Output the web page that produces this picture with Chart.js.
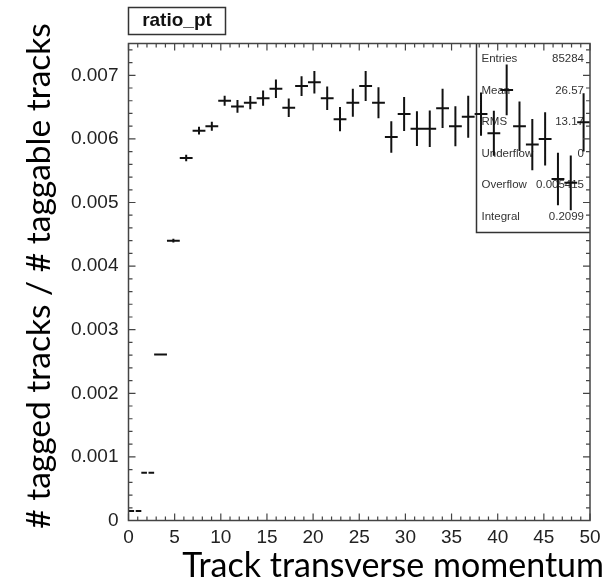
<!DOCTYPE html>
<html>
<head>
<meta charset="utf-8">
<script src="https://cdn.jsdelivr.net/npm/chart.js@4.4.1/dist/chart.umd.min.js"></script>
<style>
  html, body { margin: 0; padding: 0; background: #ffffff; }
  canvas { display: block; }
</style>
</head>
<body>
<canvas id="c" width="611" height="582"></canvas>
<script>
// Histogram binning: 36 equal bins over the pt range
const xMin = 0;
const xMax = 50;
const nBins = 36;

// Ratio per bin (tagged / taggable) and its statistical uncertainty
const ratio = [
  0.00015, 0.00075, 0.00261, 0.00440, 0.00570, 0.00613, 0.00620, 0.00660, 0.00651,
  0.00657, 0.00664, 0.00679, 0.00649, 0.00683, 0.00689, 0.00664, 0.00631, 0.00657,
  0.00683, 0.00657, 0.00603, 0.00639, 0.00616, 0.00616, 0.00648, 0.00620, 0.00635,
  0.00639, 0.00609, 0.00677, 0.00620, 0.00591, 0.00600, 0.00537, 0.00531, 0.00626
];
const ratioErr = [
  0.000005, 0.000008, 0.000015, 0.000030, 0.000050, 0.000060, 0.000070, 0.000080, 0.000100,
  0.000105, 0.000120, 0.000145, 0.000145, 0.000157, 0.000176, 0.000184, 0.000190, 0.000220,
  0.000236, 0.000244, 0.000247, 0.000267, 0.000273, 0.000288, 0.000310, 0.000315, 0.000330,
  0.000340, 0.000354, 0.000400, 0.000390, 0.000404, 0.000420, 0.000414, 0.000430, 0.000458
];

// Axis ticks
const xTickValues = [0, 5, 10, 15, 20, 25, 30, 35, 40, 45, 50];
const xTickLabels = ['0', '5', '10', '15', '20', '25', '30', '35', '40', '45', '50'];
const yTickValues = [0, 0.001, 0.002, 0.003, 0.004, 0.005, 0.006, 0.007];
const yTickLabels = ['0', '0.001', '0.002', '0.003', '0.004', '0.005', '0.006', '0.007'];
const yMin = 0;
const yMax = 0.0075;

// Stats panel
const statNames = ['Entries', 'Mean', 'RMS', 'Underflow', 'Overflow', 'Integral'];
const statValues = ['85284', '26.57', '13.17', '0', '0.005415', '0.2099'];

const histName = 'ratio_pt';
const xTitle = 'Track transverse momentum';
const yTitle = '# tagged tracks / # taggable tracks';

const binWidth = (xMax - xMin) / nBins;
const points = ratio.map((v, i) => ({ x: xMin + (i + 0.5) * binWidth, y: v }));

function labelFor(values, labels, v) {
  for (let i = 0; i < values.length; i++) {
    if (Math.abs(values[i] - v) < 1e-9) return labels[i];
  }
  return '';
}

// Frame, inward ticks, stats box, title box, axis titles and error-bar crosses
const histPainter = {
  id: 'histPainter',
  beforeDatasetsDraw(chart) {
    const { ctx, chartArea: a } = chart;
    const yS = chart.scales.y;
    // stats box (transparent, drawn under the markers)
    const boxLeft = 476.5;
    const boxBottom = yS.getPixelForValue(0.00453);
    ctx.save();
    ctx.strokeStyle = '#333';
    ctx.lineWidth = 1.5;
    ctx.beginPath();
    ctx.moveTo(boxLeft, a.top);
    ctx.lineTo(boxLeft, boxBottom);
    ctx.lineTo(a.right, boxBottom);
    ctx.stroke();
    ctx.fillStyle = '#333';
    ctx.font = '11.5px "Liberation Sans", Arial, sans-serif';
    ctx.textBaseline = 'middle';
    const rowTop = a.top + 15.5;
    const rowStep = (boxBottom - a.top - 31) / (statNames.length - 1);
    statNames.forEach((n, i) => {
      const y = rowTop + i * rowStep;
      ctx.textAlign = 'left';
      ctx.fillText(n, boxLeft + 5, y);
      ctx.textAlign = 'right';
      ctx.fillText(statValues[i], a.right - 6, y);
    });
    ctx.restore();
  },
  afterDatasetsDraw(chart) {
    const { ctx, chartArea: a } = chart;
    const xS = chart.scales.x;
    const yS = chart.scales.y;

    // error-bar crosses; bins with negligible error keep a small gap at the centre
    ctx.save();
    ctx.strokeStyle = '#111';
    ctx.lineWidth = 2;
    ctx.beginPath();
    points.forEach((p, i) => {
      const xl = xS.getPixelForValue(p.x - binWidth / 2);
      const xr = xS.getPixelForValue(p.x + binWidth / 2);
      const xc = xS.getPixelForValue(p.x);
      const yc = yS.getPixelForValue(p.y);
      const yt = yS.getPixelForValue(p.y + ratioErr[i]);
      const yb = yS.getPixelForValue(p.y - ratioErr[i]);
      if (yb - yt > 1.5) {
        ctx.moveTo(xl, yc);
        ctx.lineTo(xr, yc);
        ctx.moveTo(xc, yt);
        ctx.lineTo(xc, yb);
      } else {
        ctx.moveTo(xl, yc);
        ctx.lineTo(xc - 0.8, yc);
        ctx.moveTo(xc + 0.8, yc);
        ctx.lineTo(xr, yc);
      }
    });
    ctx.stroke();
    ctx.restore();

    // frame
    ctx.save();
    ctx.strokeStyle = '#444';
    ctx.lineWidth = 1.5;
    ctx.strokeRect(a.left, a.top, a.right - a.left, a.bottom - a.top);

    // inward ticks on all four sides
    const major = 7, minor = 4;
    ctx.lineWidth = 1.2;
    ctx.beginPath();
    for (let i = 0; i < xTickValues.length; i++) {
      const v = xTickValues[i];
      const px = xS.getPixelForValue(v);
      ctx.moveTo(px, a.bottom); ctx.lineTo(px, a.bottom - major);
      ctx.moveTo(px, a.top); ctx.lineTo(px, a.top + major);
      if (i < xTickValues.length - 1) {
        const step = (xTickValues[i + 1] - v) / 5;
        for (let k = 1; k < 5; k++) {
          const q = xS.getPixelForValue(v + k * step);
          ctx.moveTo(q, a.bottom); ctx.lineTo(q, a.bottom - minor);
          ctx.moveTo(q, a.top); ctx.lineTo(q, a.top + minor);
        }
      }
    }
    const yStep = (yTickValues[1] - yTickValues[0]) / 5;
    for (let v = yMin; v <= yMax + 1e-12; v += yStep) {
      const py = yS.getPixelForValue(v);
      const isMajor = Math.abs(v / (yStep * 5) - Math.round(v / (yStep * 5))) < 1e-6;
      const len = isMajor ? major : minor;
      ctx.moveTo(a.left, py); ctx.lineTo(a.left + len, py);
      ctx.moveTo(a.right, py); ctx.lineTo(a.right - len, py);
    }
    ctx.stroke();
    ctx.restore();

    // histogram name box
    ctx.save();
    ctx.strokeStyle = '#333';
    ctx.lineWidth = 1.5;
    ctx.strokeRect(a.left, 7.5, 97, 27);
    ctx.fillStyle = '#111';
    ctx.font = 'bold 19px "Liberation Sans", Arial, sans-serif';
    ctx.textAlign = 'center';
    ctx.textBaseline = 'middle';
    ctx.fillText(histName, a.left + 48.5, 21);
    ctx.restore();

    // axis titles
    ctx.save();
    ctx.fillStyle = '#000';
    ctx.font = '34px Lato, "Open Sans", sans-serif';
    ctx.textAlign = 'right';
    ctx.textBaseline = 'alphabetic';
    ctx.fillText(xTitle, 604, 577);
    ctx.translate(50, 276);
    ctx.rotate(-Math.PI / 2);
    ctx.textAlign = 'center';
    ctx.font = '33.5px Lato, "Open Sans", sans-serif';
    ctx.fillText(yTitle, 0, 0);
    ctx.restore();
  }
};

new Chart(document.getElementById('c'), {
  type: 'scatter',
  data: {
    datasets: [{
      label: histName,
      data: points,
      pointRadius: 0,
      pointHoverRadius: 0,
      showLine: false
    }]
  },
  options: {
    responsive: false,
    animation: false,
    devicePixelRatio: 1,
    layout: { padding: { top: 43.5, right: 21, left: 0, bottom: 0 } },
    plugins: { legend: { display: false }, tooltip: { enabled: false } },
    scales: {
      x: {
        type: 'linear',
        min: xMin,
        max: xMax,
        grid: { display: false, drawTicks: false },
        border: { display: false },
        afterFit(s) { s.height = 61.5; },
        afterBuildTicks(s) { s.ticks = xTickValues.map(v => ({ value: v })); },
        ticks: {
          padding: 6,
          maxRotation: 0,
          autoSkip: false,
          color: '#222',
          font: { family: '"Liberation Sans", Arial, sans-serif', size: 19 },
          callback: v => labelFor(xTickValues, xTickLabels, v)
        }
      },
      y: {
        type: 'linear',
        min: yMin,
        max: yMax,
        grid: { display: false, drawTicks: false },
        border: { display: false },
        afterFit(s) { s.width = 128.5; },
        afterBuildTicks(s) { s.ticks = yTickValues.map(v => ({ value: v })); },
        ticks: {
          padding: 10,
          autoSkip: false,
          color: '#222',
          font: { family: '"Liberation Sans", Arial, sans-serif', size: 19 },
          callback: v => labelFor(yTickValues, yTickLabels, v)
        }
      }
    }
  },
  plugins: [histPainter]
});
</script>
</body>
</html>
